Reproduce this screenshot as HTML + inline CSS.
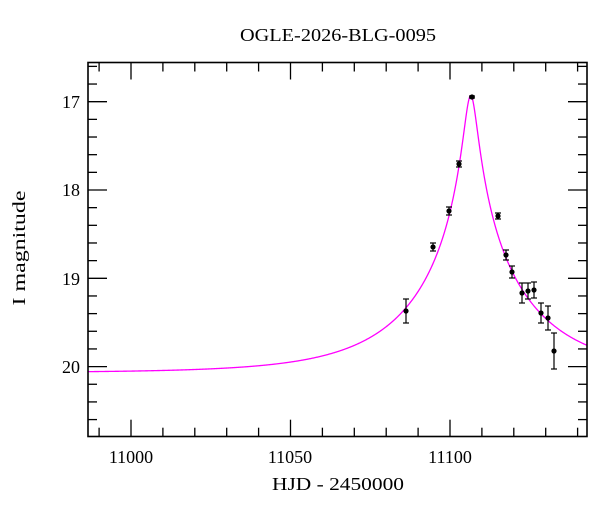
<!DOCTYPE html>
<html><head><style>
body{margin:0;background:#fff}
text{font-family:"Liberation Serif",serif;fill:#000}
</style></head><body>
<svg id="s" width="600" height="512" xmlns="http://www.w3.org/2000/svg">
<text x="338" y="41" font-size="18" text-anchor="middle" textLength="196" lengthAdjust="spacingAndGlyphs">OGLE-2026-BLG-0095</text>
<text x="338" y="490" font-size="18" text-anchor="middle" textLength="132" lengthAdjust="spacingAndGlyphs">HJD - 2450000</text>
<text x="25" y="248" font-size="18" text-anchor="middle" textLength="115" lengthAdjust="spacingAndGlyphs" transform="rotate(-90 25 248)">I magnitude</text>
<g font-size="18" text-anchor="end">
<text x="80" y="108">17</text><text x="80" y="196">18</text><text x="80" y="285">19</text><text x="80" y="373">20</text>
</g>
<g font-size="18" text-anchor="middle">
<text x="131" y="463">11000</text><text x="290" y="463">11050</text><text x="450" y="463">11100</text>
</g>
<g id="ticks" stroke="#000" stroke-width="1.3"></g>
<path id="curve" fill="none" stroke="#ff00ff" stroke-width="1.3"/>
<g id="pts" stroke="#000" stroke-width="1.2"></g>
<rect x="88" y="62.5" width="499" height="374" fill="none" stroke="#000" stroke-width="1.6"/>
</svg>
<script>
var X=function(d){return 450+(d-11100)*3.19},Y=function(m){return 101.7+(m-17)*88.3};
var t='';
for(var d=10990;d<=11140;d+=10){var x=X(d);if(x<88||x>587)continue;var L=(d%50==0)?17:9;
t+='<line x1="'+x+'" y1="436.7" x2="'+x+'" y2="'+(436.7-L)+'"/><line x1="'+x+'" y1="62.5" x2="'+x+'" y2="'+(62.5+L)+'"/>';}
for(var i=0;i<=24;i++){var m=16.6+i*0.2;var y=Y(m);if(y<62||y>437)continue;var L=(Math.abs(m-Math.round(m))<0.01)?19:9;
t+='<line x1="88" y1="'+y+'" x2="'+(88+L)+'" y2="'+y+'"/><line x1="587" y1="'+y+'" x2="'+(587-L)+'" y2="'+y+'"/>';}
document.getElementById('ticks').innerHTML=t;
var p='',u0=0.0556,tE=36,t0=11106.5;
for(var x=88;x<=587;x+=0.5){var d=11100+(x-450)/3.19;var u=Math.sqrt(u0*u0+Math.pow((d-t0)/tE,2));
var A=(u*u+2)/(u*Math.sqrt(u*u+4));var m=20.07-2.5*Math.log10(A);p+=(p?'L':'M')+x.toFixed(1)+','+Y(m).toFixed(2);}
document.getElementById('curve').setAttribute('d',p);
var P=[[406,311,12],[433,247,4],[449,211,4],[459,164,3],[472,97,1],[498,216,3],[506,255,5],[512,272,6],[522,293,10],[528,291,8],[534,290,8],[541,313,10],[548,318,12],[554,351,18]];
var s='';P.forEach(function(q){var x=q[0],y=q[1],e=q[2];
s+='<line x1="'+x+'" y1="'+(y-e)+'" x2="'+x+'" y2="'+(y+e)+'"/><line x1="'+(x-3)+'" y1="'+(y-e)+'" x2="'+(x+3)+'" y2="'+(y-e)+'"/><line x1="'+(x-3)+'" y1="'+(y+e)+'" x2="'+(x+3)+'" y2="'+(y+e)+'"/><circle cx="'+x+'" cy="'+y+'" r="2.6" fill="#000" stroke="none"/>';});
document.getElementById('pts').innerHTML=s;
</script>
</body></html>
